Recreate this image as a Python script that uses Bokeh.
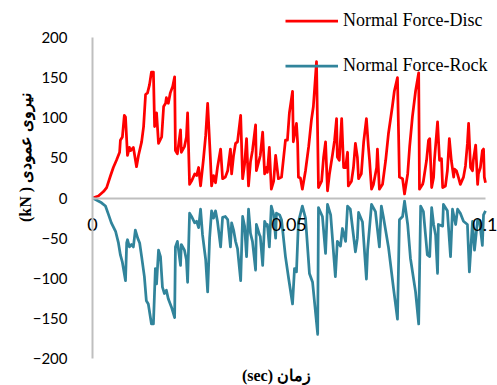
import math
from bokeh.plotting import figure
from bokeh.models import Range1d, FixedTicker, NumeralTickFormatter, Legend, LegendItem, Label
from bokeh.embed import file_html
from bokeh.resources import INLINE

# Time in milliseconds, force in kN
disc_ms = [0, 1.5, 2.8, 3.6, 4.6, 5.3, 6.1, 6.9, 7.1, 7.6, 8.1, 8.4, 8.9, 9.4, 9.7, 10.4, 11.2, 11.7,
           12.5, 13.0, 13.5, 14.0, 14.5, 15.0, 15.5, 15.8, 16.3, 16.8, 17.6, 18.1, 18.6, 18.8, 19.3,
           19.8, 20.4, 20.9, 21.1, 21.6, 22.4, 22.6, 23.4, 23.9, 24.2, 24.7, 25.2, 26.0, 26.5, 27.0,
           27.5, 28.2, 28.8, 29.3, 30.0, 30.3, 30.8, 31.3, 31.8, 32.6, 33.1, 33.8, 34.4, 35.1, 35.4,
           35.9, 36.4, 36.9, 37.7, 38.2, 38.7, 39.2, 39.7, 40.2, 40.7, 41.5, 41.7, 42.5, 42.7, 43.3,
           43.8, 44.3, 44.5, 45.0, 45.5, 46.1, 46.6, 47.3, 48.1, 49.1, 49.6, 50.1, 50.9, 51.1, 51.9,
           52.2, 52.4, 52.9, 53.4, 54.2, 55.0, 55.7, 56.2, 57.0, 57.5, 58.3, 58.8, 59.3, 59.8, 60.3,
           61.1, 61.6, 62.1, 62.3, 62.8, 63.4, 63.9, 64.4, 64.9, 65.1, 65.9, 66.4, 66.9, 67.4, 67.7,
           68.4, 69.0, 69.7, 70.2, 70.5, 71.0, 71.5, 72.3, 72.5, 73.0, 73.8, 74.6, 75.3, 76.3, 76.8,
           77.6, 78.1, 78.9, 79.4, 80.2, 80.7, 81.4, 82.2, 83.0, 83.2, 84.0, 84.2, 85.0, 85.5, 85.8,
           86.3, 86.8, 87.0, 87.8, 88.3, 88.8, 89.1, 89.8, 90.3, 90.8, 91.3, 91.9, 92.1, 92.6, 93.1,
           93.6, 94.4, 94.9, 95.4, 95.7, 96.2, 96.7, 96.9, 97.5, 98.0, 98.2, 98.7, 99.2, 99.5, 99.7,
           100.0]
disc_kn = [0, 2.5, 8, 13, 28, 38, 47, 57, 72, 76, 103, 101, 53, 63, 59, 63, 39, 53,
           70, 89, 129, 131, 141, 157, 157, 89, 106, 68, 76, 114, 118, 125, 118,
           131, 139, 151, 59, 55, 85, 57, 64, 76, 106, 17, 21, 30, 28, 38,
           15, 47, 78, 118, 49, 15, 28, 19, 38, 61, 24, 26, 34, 61, 30,
           53, 68, 70, 103, 24, 42, 74, 15, 45, 59, 91, 34, 49, 53, 82,
           30, 38, 32, 63, 11, 21, 53, 24, 26, 72, 72, 106, 133, 70, 93,
           68, 26, 25, 11, 34, 64, 97, 114, 170, 13, 21, 51, 70, 9, 30,
           55, 72, 99, 51, 47, 99, 38, 38, 57, 15, 21, 38, 68, 51, 24,
           30, 70, 99, 64, 47, 11, 17, 38, 61, 11, 17, 47, 80, 114, 133,
           150, 26, 24, 5, 30, 64, 101, 133, 156, 11, 17, 21, 47, 72, 74,
           13, 26, 47, 95, 47, 49, 13, 15, 34, 74, 47, 26, 36, 34, 26,
           17, 26, 40, 68, 93, 38, 34, 47, 66, 17, 30, 38, 59, 61, 26,
           19]

rock_ms = [0, 1.0, 2.3, 3.3, 4.1, 4.8, 5.9, 6.6, 7.1, 7.6, 8.4, 8.7, 8.9, 9.4, 9.9, 10.4, 10.9, 11.5,
           12.0, 12.5, 13.2, 13.7, 14.2, 15.0, 15.5, 16.0, 16.3, 16.8, 17.3, 17.8, 18.3, 18.8, 19.3,
           20.1, 20.9, 21.1, 21.6, 22.4, 22.6, 23.4, 23.9, 24.2, 24.7, 25.2, 26.0, 26.5, 27.0, 27.5,
           28.0, 28.8, 29.3, 29.8, 30.3, 30.8, 31.3, 31.8, 32.6, 33.1, 33.8, 34.4, 35.1, 35.4, 35.9,
           36.4, 36.9, 37.7, 38.2, 38.7, 39.2, 39.7, 40.2, 40.7, 41.5, 41.7, 42.5, 42.7, 43.3, 43.8,
           44.3, 44.5, 45.0, 45.5, 46.1, 46.6, 46.8, 47.6, 48.1, 49.1, 49.9, 50.9, 51.4, 51.9, 52.4,
           53.4, 54.2, 55.2, 56.0, 57.3, 57.5, 58.5, 59.3, 59.8, 60.6, 61.8, 62.3, 63.1, 63.6, 64.4,
           64.9, 65.6, 66.9, 67.4, 67.7, 68.7, 69.7, 70.0, 71.0, 72.0, 73.0, 73.5, 74.0, 75.3, 76.6,
           77.6, 78.1, 78.9, 79.4, 80.2, 80.9, 82.2, 83.0, 83.5, 84.2, 85.2, 85.8, 86.3, 86.8, 87.3,
           87.8, 88.0, 89.1, 89.3, 90.3, 91.1, 91.6, 92.4, 92.9, 93.6, 94.4, 95.4, 95.9, 96.7, 97.2,
           98.0, 98.5, 99.2, 99.5, 100.0]
rock_kn = [0, -2.5, -6, -10, -21, -31, -42, -56, -71, -80, -103, -56, -52, -61, -58, -61, -40, -50,
           -56, -73, -98, -128, -132, -157, -157, -88, -107, -65, -73, -111, -119, -115, -126,
           -136, -149, -61, -54, -84, -58, -65, -77, -105, -19, -23, -31, -29, -37, -14,
           -46, -77, -117, -50, -16, -25, -16, -29, -61, -24, -23, -27, -61, -31, -40,
           -54, -63, -103, -23, -35, -73, -14, -44, -54, -90, -33, -46, -48, -84, -29,
           -35, -33, -61, -10, -21, -50, -19, -21, -27, -73, -100, -132, -88, -92, -30,
           -10, -25, -94, -105, -170, -12, -23, -69, -8, -21, -98, -54, -60, -38, -54,
           -10, -14, -67, -50, -18, -30, -101, -65, -8, -17, -61, -10, -23, -61, -113,
           -151, -27, -23, -4, -33, -75, -117, -157, -10, -17, -71, -73, -12, -33, -46,
           -94, -33, -35, -8, -16, -73, -14, -33, -14, -19, -29, -33, -92, -29, -65,
           -27, -29, -59, -21, -16]

x_ticks = [0, 0.05, 0.1]
y_ticks = [-200, -150, -100, -50, 0, 50, 100, 150, 200]
x_bounds = (0, 0.1)
y_bounds = (-200, 200)
series_names = ["Normal Force-Disc", "Normal Force-Rock"]
x_title = "(sec) زمان"
y_title = "(kN ) نیروی عمودی"

disc_t = [m / 1000 for m in disc_ms]
rock_t = [m / 1000 for m in rock_ms]

# Layout: the frame fills the whole canvas; axes are pinned at 0 and bounded.
W, H = 497, 385
plot_left, plot_right = 92, 485      # pixel columns of x = 0 and x = 0.1
plot_top, plot_bottom = 37, 358      # pixel rows of y = 200 and y = -200
xs = (x_bounds[1] - x_bounds[0]) / (plot_right - plot_left)
ys = (y_bounds[1] - y_bounds[0]) / (plot_bottom - plot_top)
x_range = Range1d(x_bounds[0] - plot_left * xs, x_bounds[1] + (W - plot_right) * xs)
y_range = Range1d(y_bounds[0] - (H - plot_bottom) * ys, y_bounds[1] + plot_top * ys)

p = figure(width=W, height=H, output_backend="svg", toolbar_location=None,
           x_range=x_range, y_range=y_range,
           min_border_left=0, min_border_right=0, min_border_top=0, min_border_bottom=0)
p.outline_line_color = None
p.grid.visible = False
p.background_fill_color = "white"
p.border_fill_color = "white"

r1 = p.line(disc_t, disc_kn, line_color="#FF0000", line_width=2.75, line_join="round")
r2 = p.line(rock_t, rock_kn, line_color="#31849B", line_width=2.75, line_join="round")

xa = p.xaxis[0]
xa.fixed_location = 0
xa.bounds = x_bounds
xa.ticker = FixedTicker(ticks=x_ticks)
xa.formatter = NumeralTickFormatter(format="0.[00]")
xa.axis_line_color = "#BFBFBF"
xa.axis_line_width = 2
xa.major_tick_line_color = None
xa.minor_tick_line_color = None
xa.major_label_standoff = 14
xa.major_label_text_font = "Lato"
xa.major_label_text_font_size = "18px"
xa.major_label_text_color = "black"

ya = p.yaxis[0]
ya.fixed_location = 0
ya.bounds = y_bounds
ya.ticker = FixedTicker(ticks=y_ticks)
ya.axis_line_color = "#BFBFBF"
ya.axis_line_width = 2
ya.major_tick_line_color = None
ya.minor_tick_line_color = None
ya.major_label_standoff = 19
ya.major_label_text_font = "Lato"
ya.major_label_text_font_size = "15px"
ya.major_label_text_color = "black"

# Axis titles (screen units measured from the frame's bottom-left corner)
p.add_layout(Label(x=276, y=H - 375, x_units="screen", y_units="screen", text=x_title,
                   text_align="center", text_baseline="middle",
                   text_font="Liberation Serif", text_font_style="bold",
                   text_font_size="16px", text_color="black"))
p.add_layout(Label(x=25, y=H - 157, x_units="screen", y_units="screen", text=y_title,
                   angle=math.pi / 2, text_align="center", text_baseline="middle",
                   text_font="Liberation Serif", text_font_style="bold",
                   text_font_size="16px", text_color="black"))

legend = Legend(items=[LegendItem(label=series_names[0], renderers=[r1]),
                       LegendItem(label=series_names[1], renderers=[r2])],
                location=(285, H - 76), orientation="vertical",
                glyph_width=53, glyph_height=21, label_height=21, spacing=24,
                padding=0, margin=0, label_standoff=5,
                label_text_font="Liberation Serif", label_text_font_size="18px",
                label_text_color="black",
                background_fill_alpha=0, border_line_alpha=0)
p.add_layout(legend)

open("out.html", "w").write(file_html(p, INLINE))
